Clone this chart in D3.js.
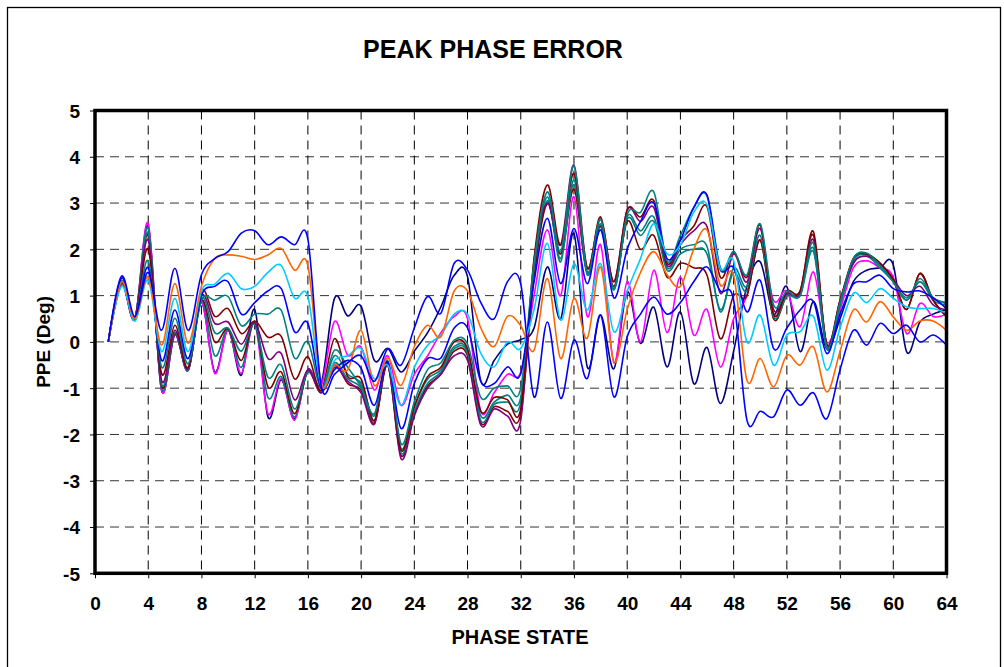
<!DOCTYPE html>
<html>
<head>
<meta charset="utf-8">
<script src="https://cdn.jsdelivr.net/npm/d3@7"></script>
<style>
  html, body { margin: 0; padding: 0; background: #fff; }
  svg { display: block; font-family: Arial, "Liberation Sans", sans-serif; }
</style>
</head>
<body>
<svg id="chart" width="1004" height="667"></svg>
<script>
"use strict";

// phase states 1..64
const phaseStates = d3.range(1, 65);
const xTicks = d3.range(0, 65, 4);
const yTicks = d3.range(-5, 6, 1);

const seriesA = [0, 1.42, 0.55, 1.5, 0.25, 1.59, 0.25, 1.45,
  1.8, 1.95, 2.35, 2.4, 2.1, 2.27, 2.1, 2.22,
  -0.95, -0.7, -0.45, -0.3, -0.85, -0.15, -0.5, 0.3,
  0.98, 0.62, 1.7, 1.55, 0.85, 0.5, 1.3, 1.25,
  -1.19, 0.43, -1.22, 0.04, -0.79, 0.58, -1.19, 0.11,
  0.6, 0.97, 0.6, 0.85, 1.3, 1.62, 1.1, 0.9,
  -1.69, -1.5, -1.62, -1.04, -1.37, -1.1, -1.66, -0.6,
  0.25, -0.07, 0.4, 0.18, 0.36, 0.0, 0.15, -0.07];
const seriesB = [0, 1.3, 0.5, 1.4, -0.07, 1.26, -0.03, 1.2,
  1.8, 1.88, 1.85, 1.78, 1.88, 2.02, 1.55, 1.65,
  -0.9, -0.5, -0.6, 0.25, -0.94, -0.34, -0.94, -0.1,
  0.36, 0.11, 1.1, 1.1, 0.3, -0.1, 0.55, 0.35,
  -0.18, 1.37, -0.36, 0.94, 0.08, 1.62, -0.43, 0.7,
  1.5, 1.95, 1.45, 1.2, 2.0, 2.42, 1.23, 1.44,
  -0.83, -0.36, -0.97, -0.29, -0.5, -0.11, -1.08, -0.2,
  0.69, 0.43, 0.87, 0.54, 0.25, 0.45, 0.45, 0.25];
const seriesC = [0, 1.2, 0.45, 1.33, -0.21, 0.94, -0.21, 1.1,
  1.25, 1.48, 1.15, 1.2, 1.5, 1.65, 0.95, 0.98,
  -0.95, -0.4, -0.3, -0.14, -0.8, -0.5, -1.37, -0.55,
  -0.07, 0.15, 0.6, 0.6, -0.25, -0.54, 0.0, -0.14,
  0.7, 2.13, 0.47, 1.69, 0.69, 1.69, 0.22, 1.1,
  1.8, 2.55, 1.9, 2.1, 2.8, 2.96, 1.59, 1.75,
  0.0, 0.58, -0.5, 0.15, 0.22, 0.55, -0.61, 0.3,
  1.05, 0.85, 1.15, 0.94, 0.76, 0.72, 0.72, 0.62];
const seriesD = [0, 1.38, 0.5, 1.6, -0.4, 0.69, -0.36, 1.0,
  1.2, 1.3, 0.6, 0.85, 1.1, 1.15, 0.22, 0.4,
  -1.0, -0.6, -0.4, -0.57, -1.37, -0.43, -1.87, -0.9,
  -0.36, -0.35, 0.3, 0.3, -0.85, -0.9, -0.54, -0.68,
  1.3, 2.67, 1.26, 2.45, 1.26, 2.42, 0.95, 2.0,
  2.6, 3.0, 1.8, 2.2, 2.9, 3.17, 1.6, 1.6,
  0.65, 1.33, -0.14, 0.3, 0.69, 0.87, -0.25, 0.6,
  1.25, 1.3, 1.44, 1.15, 1.08, 1.1, 0.95, 0.72];
const seriesE = [0, 1.32, 0.5, 1.75, -0.54, 0.51, -0.47, 0.9,
  0.9, 0.98, 0.35, 0.6, 0.6, 0.68, -0.35, 0.0,
  -1.0, -0.18, -0.55, -0.97, -1.55, -0.4, -2.2, -1.3,
  -0.6, -0.45, 0.04, -0.05, -1.2, -1.0, -0.95, -1.0,
  1.7, 3.24, 1.95, 3.8, 1.5, 2.65, 1.15, 2.75,
  2.8, 3.24, 1.75, 2.3, 2.9, 3.15, 1.55, 1.95,
  1.45, 2.55, 0.8, 1.1, 1.0, 2.13, -0.1, 0.85,
  1.8, 1.92, 1.65, 1.3, 0.9, 1.37, 0.95, 0.83];
const seriesF = [0, 1.3, 0.5, 2.0, -0.68, 0.36, -0.55, 1.1,
  0.55, 0.72, 0.18, 0.45, 0.1, 0.12, -0.8, -0.32,
  -1.05, 0.07, -0.75, -0.8, -1.7, -0.45, -2.34, -1.4,
  -0.75, -0.55, 0.0, -0.15, -1.5, -1.2, -1.25, -1.44,
  1.8, 3.39, 2.09, 3.64, 1.59, 2.7, 1.3, 2.85,
  2.7, 3.05, 1.7, 2.2, 2.5, 2.92, 1.4, 1.95,
  1.4, 2.52, 0.6, 1.1, 1.1, 2.38, -0.05, 0.9,
  1.8, 1.9, 1.7, 1.35, 0.7, 1.48, 0.9, 0.55];
const seriesG = [0, 1.3, 0.5, 2.2, -0.83, 0.25, -0.58, 1.0,
  0.4, 0.43, -0.05, 0.42, -0.36, -0.25, -1.25, -0.6,
  -1.1, -0.55, -0.85, -1.1, -1.78, -0.5, -2.52, -1.6,
  -1.0, -0.7, -0.3, -0.4, -1.8, -1.45, -1.6, -1.69,
  1.75, 3.0, 2.1, 3.82, 1.6, 2.65, 1.3, 2.85,
  2.6, 2.9, 1.65, 2.1, 2.4, 2.49, 1.05, 1.9,
  1.3, 2.45, 0.7, 1.05, 1.05, 2.2, -0.05, 0.9,
  1.7, 1.85, 1.7, 1.35, 1.0, 1.2, 0.8, 0.7];
const seriesH = [0, 1.28, 0.5, 2.35, -0.9, 0.2, -0.6, 0.95,
  0.2, 0.3, -0.2, 0.38, -0.76, -0.5, -1.45, -0.65,
  -1.05, -0.45, -0.8, -1.0, -1.7, -0.48, -2.4, -1.5,
  -0.9, -0.65, -0.15, -0.25, -1.7, -1.35, -1.3, -1.3,
  1.6, 3.13, 1.73, 3.5, 1.48, 2.55, 1.12, 2.7,
  2.4, 2.7, 1.6, 2.0, 2.1, 2.06, 0.65, 1.6,
  1.2, 2.3, 0.55, 1.0, 1.05, 2.02, -0.15, 0.8,
  1.75, 1.88, 1.65, 1.3, 0.9, 1.3, 0.9, 0.8];
const seriesI = [0, 1.28, 0.5, 2.3, -0.95, 0.18, -0.6, 0.9,
  0.0, 0.28, -0.4, 0.4, -0.97, -0.65, -1.55, -0.65,
  -1.1, -0.5, -0.9, -1.05, -1.75, -0.5, -2.45, -1.55,
  -0.95, -0.7, -0.2, -0.3, -1.75, -1.4, -1.5, -1.55,
  1.4, 2.99, 1.9, 3.3, 1.5, 2.5, 1.2, 2.6,
  2.0, 2.3, 1.4, 1.7, 1.6, 1.44, 0.07, 1.0,
  1.0, 2.2, 0.5, 1.0, 1.1, 2.3, -0.1, 0.85,
  1.8, 1.9, 1.7, 1.35, 0.7, 1.48, 0.9, 0.55];
const seriesJ = [0, 1.26, 0.5, 2.45, -1.0, 0.17, -0.62, 0.9,
  -0.3, 0.27, -0.55, 0.4, -1.2, -0.75, -1.62, -0.62,
  -1.05, -0.3, -0.7, -0.9, -1.6, -0.45, -2.3, -1.4,
  -0.8, -0.6, -0.1, -0.2, -1.6, -1.3, -1.15, -1.2,
  1.5, 3.05, 1.8, 3.4, 1.45, 2.5, 1.15, 2.65,
  2.3, 2.6, 1.55, 1.9, 2.0, 1.9, 0.7, 1.5,
  1.1, 2.2, 0.6, 1.0, 1.0, 1.95, -0.12, 0.8,
  1.7, 1.85, 1.6, 1.3, 0.95, 1.3, 0.95, 0.85];
const seriesK = [0, 1.25, 0.5, 2.56, -1.04, 0.15, -0.62, 0.85,
  -0.68, 0.25, -0.68, 0.4, -1.55, -0.79, -1.69, -0.61,
  -0.95, 0.44, -0.29, -0.11, -1.04, -0.3, -1.37, -0.7,
  -0.3, 0.2, 0.55, 0.5, -1.5, -1.1, -0.7, -0.65,
  1.0, 2.42, 1.0, 3.14, 0.55, 2.1, -0.45, 1.3,
  0.0, 1.55, 0.2, 1.4, 0.15, 0.7, -0.54, 0.5,
  1.0, 2.2, 0.9, 1.1, 0.33, 1.51, 0.0, 0.7,
  1.6, 1.75, 1.6, 1.4, 0.18, 0.83, 0.55, 0.6];
const seriesL = [0, 1.25, 0.5, 2.5, -1.04, 0.15, -0.6, 0.85,
  -0.65, 0.25, -0.72, 0.7, -1.62, -0.82, -1.66, -0.6,
  -0.9, 0.94, 0.56, 0.77, -0.4, -0.14, -0.65, -0.2,
  0.2, 0.76, 1.44, 1.41, -0.85, -0.4, -0.05, 0.05,
  0.3, 1.62, 0.5, 2.34, -0.54, 0.58, -0.58, 1.08,
  -0.03, 0.75, -0.54, 0.65, -0.9, -0.12, -1.33, -0.2,
  1.2, 1.73, 0.6, 1.19, -0.21, 0.87, -0.15, 0.5,
  1.3, 1.55, 1.6, 1.66, -0.21, 0.43, 0.6, 0.7];

// drawing order: first drawn ends up underneath
const seriesList = [
  { values: seriesL, color: "#000080" },
  { values: seriesK, color: "#FF00FF" },
  { values: seriesJ, color: "#008080" },
  { values: seriesI, color: "#800000" },
  { values: seriesH, color: "#008080" },
  { values: seriesG, color: "#800080" },
  { values: seriesF, color: "#800000" },
  { values: seriesE, color: "#008080" },
  { values: seriesD, color: "#0000FF" },
  { values: seriesC, color: "#00CCFF" },
  { values: seriesB, color: "#FF6600" },
  { values: seriesA, color: "#0000FF" }
];

const svg = d3.select("#chart");

// plot area
const plot = { left: 95, right: 946.5, top: 110.5, bottom: 573.3 };

const x = d3.scaleLinear().domain([0, 64]).range([plot.left, plot.right]);
const y = d3.scaleLinear().domain([-5, 5]).range([plot.bottom, plot.top]);

// outer chart frame
svg.append("rect")
  .attr("x", 7.5).attr("y", 7.5)
  .attr("width", 993).attr("height", 700)
  .attr("fill", "none").attr("stroke", "#000").attr("stroke-width", 1.3);

// title
svg.append("text")
  .attr("x", 493).attr("y", 58)
  .attr("text-anchor", "middle")
  .attr("font-size", 25).attr("font-weight", "bold")
  .text("PEAK PHASE ERROR");

// gridlines
const grid = svg.append("g").attr("class", "grid");
grid.selectAll("line.h")
  .data(yTicks.filter(d => d > -5 && d < 5))
  .enter().append("line")
  .attr("class", "h")
  .attr("x1", plot.left).attr("x2", plot.right)
  .attr("y1", d => y(d)).attr("y2", d => y(d))
  .attr("stroke", "#333").attr("stroke-width", 1)
  .attr("stroke-dasharray", "9,6");
grid.selectAll("line.v")
  .data(xTicks.filter(d => d > 0 && d < 64))
  .enter().append("line")
  .attr("class", "v")
  .attr("x1", d => x(d)).attr("x2", d => x(d))
  .attr("y1", plot.top).attr("y2", plot.bottom)
  .attr("stroke", "#000").attr("stroke-width", 1)
  .attr("stroke-dasharray", "9,6");

// series lines (smoothed like the spreadsheet original)
const line = d3.line()
  .x((d, i) => x(phaseStates[i]))
  .y(d => y(d))
  .curve(d3.curveCardinal.tension(0));

svg.append("g").attr("class", "series")
  .selectAll("path")
  .data(seriesList)
  .enter().append("path")
  .attr("d", d => line(d.values))
  .attr("fill", "none")
  .attr("stroke", d => d.color)
  .attr("stroke-width", 1.6)
  .attr("stroke-linejoin", "round");

// axes (plain hyphen for negatives, as in the original)
const plainInt = d => String(d);
const yAxis = d3.axisLeft(y).tickValues(yTicks).tickSize(5).tickPadding(10)
  .tickFormat(plainInt);
const xAxis = d3.axisBottom(x).tickValues(xTicks).tickSize(5).tickPadding(18)
  .tickFormat(plainInt);

const gy = svg.append("g").attr("transform", "translate(" + plot.left + ",0)").call(yAxis);
const gx = svg.append("g").attr("transform", "translate(0," + plot.bottom + ")").call(xAxis);

[gy, gx].forEach(g => {
  g.select(".domain").remove();
  g.selectAll(".tick line").attr("stroke", "#000").attr("stroke-width", 1);
  g.selectAll(".tick text")
    .attr("fill", "#000")
    .attr("font-size", 19)
    .attr("font-weight", "bold")
    .attr("font-family", "Arial, 'Liberation Sans', sans-serif");
});
gy.selectAll(".tick text").attr("dy", "0.36em");

// thick plot border
svg.append("rect")
  .attr("x", plot.left).attr("y", plot.top)
  .attr("width", plot.right - plot.left)
  .attr("height", plot.bottom - plot.top)
  .attr("fill", "none").attr("stroke", "#000").attr("stroke-width", 3.5);

// axis titles
svg.append("text")
  .attr("x", 520).attr("y", 644)
  .attr("text-anchor", "middle")
  .attr("font-size", 20).attr("font-weight", "bold")
  .text("PHASE STATE");

svg.append("text")
  .attr("transform", "translate(50," + y(0) + ") rotate(-90)")
  .attr("text-anchor", "middle")
  .attr("font-size", 19).attr("font-weight", "bold")
  .text("PPE (Deg)");
</script>
</body>
</html>
